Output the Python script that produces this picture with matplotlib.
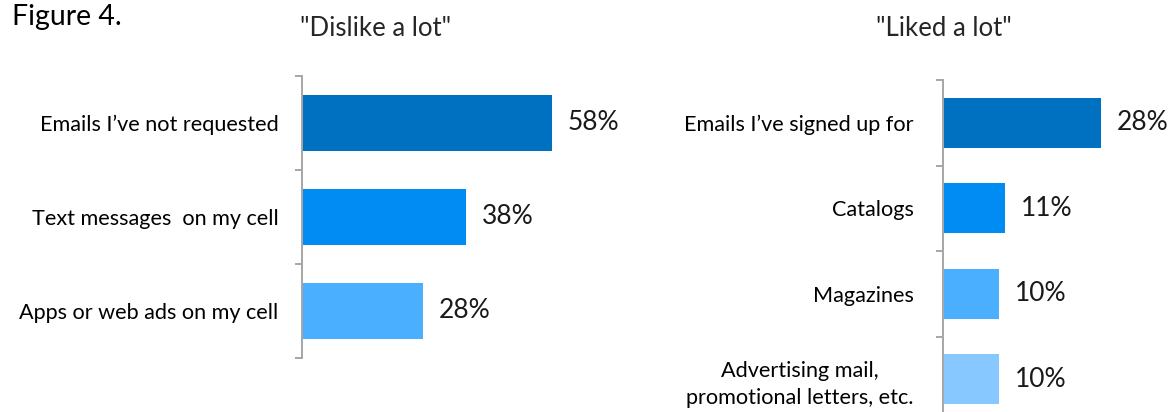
import matplotlib
matplotlib.use("Agg")
import matplotlib.pyplot as plt
import numpy as np

plt.rcParams['font.family'] = ['Lato', 'DejaVu Sans']

# Survey results (% of respondents)
dislike_labels = ["Emails I\u2019ve not requested", "Text messages  on my cell", "Apps or web ads on my cell"]
dislike_values = [58, 38, 28]

liked_labels = ["Emails I\u2019ve signed up for", "Catalogs", "Magazines",
                "Advertising mail,\npromotional letters, etc."]
liked_values = [28, 11, 10, 10]

bar_colors = ['#0070C0', '#008CF2', '#4BAFFF', '#86C8FF']

W, H = 1176, 412
DPI = 100
fig = plt.figure(figsize=(W / DPI, H / DPI), dpi=DPI)
fig.patch.set_facecolor('white')


def px_axes(left, top, width, height):
    return fig.add_axes([left / W, (H - top - height) / H, width / W, height / H])


def draw_panel(ax, labels, values, xmax, pad):
    n = len(values)
    y = np.arange(n)
    ax.barh(y, values, height=0.59, color=bar_colors[:n], edgecolor='none')
    ax.set_xlim(0, xmax)
    ax.set_ylim(n - 0.5, -0.5)
    for s in ['top', 'right', 'bottom']:
        ax.spines[s].set_visible(False)
    ax.spines['left'].set_color('#A6A6A6')
    ax.spines['left'].set_linewidth(1.4)
    ax.set_xticks([])
    ax.set_yticks(y)
    ax.set_yticklabels(labels, fontsize=15.6, color='#000000',
                       multialignment='center', linespacing=1.4)
    ax.tick_params(axis='y', which='major', length=0, pad=pad)
    ax.set_yticks(np.arange(n + 1) - 0.5, minor=True)
    ax.tick_params(axis='y', which='minor', length=5, width=1.4, color='#A6A6A6', direction='out')
    for yi, v in zip(y, values):
        ax.annotate(f"{v}%", xy=(v, yi), xytext=(11.5, 0), textcoords='offset points',
                    ha='left', va='center', fontsize=19, color='#1A1A1A')


ax1 = px_axes(302, 75.7, 60 * 4.31, 282.3)
draw_panel(ax1, dislike_labels, dislike_values, 60, 17)

ax2 = px_axes(942.7, 80, 30 * 5.65, 342)
draw_panel(ax2, liked_labels, liked_values, 30, 21)

fig.text(12 / W, 1 - 25 / H, "Figure 4.", fontsize=20.5, color='#000000', ha='left', va='baseline')
fig.text(375.5 / W, 1 - 36 / H, "\"Dislike a lot\"", fontsize=18.5, color='#262626', ha='center', va='baseline')
fig.text(944 / W, 1 - 36 / H, "\"Liked a lot\"", fontsize=18.5, color='#262626', ha='center', va='baseline')

fig.savefig("out.png", dpi=DPI, facecolor='white')
